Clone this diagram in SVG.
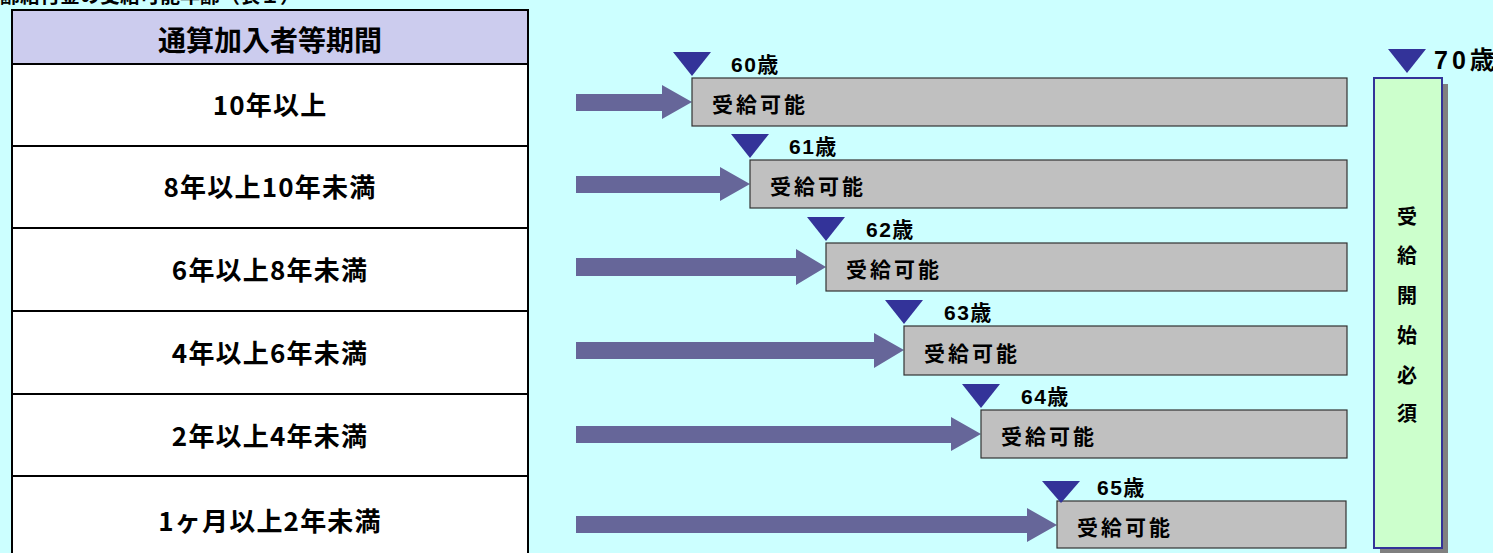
<svg xmlns="http://www.w3.org/2000/svg" width="1493" height="553" viewBox="0 0 1493 553">
<defs>
<style>
.t{font-family:"Noto Sans CJK JP","Liberation Sans",sans-serif;font-weight:bold;fill:#000}
.r{font-size:26px;letter-spacing:1.2px}
.k{font-size:21px;letter-spacing:3px}
.a{font-family:"Liberation Sans","Noto Sans CJK JP",sans-serif;font-weight:bold;fill:#000;font-size:21px;letter-spacing:1.5px}
.cell{fill:#fff;stroke:#000;stroke-width:2}
.box{fill:#c0c0c0;stroke:#333;stroke-width:1.2}
.arr{fill:#666699}
.tri{fill:#333399}
</style>
</defs>
<rect x="0" y="0" width="1493" height="553" fill="#ccffff"/>
<text class="t" x="0" y="3" font-size="20">齢給付金の受給可能年齢（表１）</text>

<g id="table">
<rect x="12" y="10" width="516" height="54" fill="#ccccee" stroke="#000" stroke-width="2"/>
<text class="t" x="270" y="51" font-size="28" text-anchor="middle">通算加入者等期間</text>
<rect class="cell" x="12" y="64" width="516" height="82"/>
<rect class="cell" x="12" y="146" width="516" height="82"/>
<rect class="cell" x="12" y="228" width="516" height="83"/>
<rect class="cell" x="12" y="311" width="516" height="83"/>
<rect class="cell" x="12" y="394" width="516" height="82"/>
<rect class="cell" x="12" y="476" width="516" height="90"/>
<text class="t r" x="270" y="115" text-anchor="middle">10年以上</text>
<text class="t r" x="270" y="197" text-anchor="middle">8年以上10年未満</text>
<text class="t r" x="270" y="280" text-anchor="middle">6年以上8年未満</text>
<text class="t r" x="270" y="363" text-anchor="middle">4年以上6年未満</text>
<text class="t r" x="270" y="446" text-anchor="middle">2年以上4年未満</text>
<text class="t r" x="270" y="531" text-anchor="middle">1ヶ月以上2年未満</text>
</g>

<g id="connectors">
<polygon class="arr" points="576,94 662,94 662,85 692,102 662,119 662,111 576,111"/>
<polygon class="arr" points="576,176 720,176 720,167 750,184 720,201 720,193 576,193"/>
<polygon class="arr" points="576,258 796,258 796,249 826,267 796,285 796,276 576,276"/>
<polygon class="arr" points="576,342 874,342 874,333 904,350 874,368 874,359 576,359"/>
<polygon class="arr" points="576,426 951,426 951,417 981,434 951,451 951,443 576,443"/>
<polygon class="arr" points="576,516 1027,516 1027,508 1057,525 1027,542 1027,533 576,533"/>
</g>

<g id="row1">
<rect class="box" x="692" y="78" width="655" height="48"/>
<text class="t k" x="712" y="112">受給可能</text>
<polygon class="tri" points="673,52 711,52 692,76"/>
<text class="a" x="731" y="72">60歳</text>
</g>
<g id="row2">
<rect class="box" x="750" y="160" width="597" height="48"/>
<text class="t k" x="770" y="194">受給可能</text>
<polygon class="tri" points="731,134 769,134 750,158"/>
<text class="a" x="789" y="154">61歳</text>
</g>
<g id="row3">
<rect class="box" x="826" y="243" width="521" height="48"/>
<text class="t k" x="846" y="277">受給可能</text>
<polygon class="tri" points="807,217 845,217 826,241"/>
<text class="a" x="866" y="237">62歳</text>
</g>
<g id="row4">
<rect class="box" x="904" y="326" width="443" height="49"/>
<text class="t k" x="924" y="361">受給可能</text>
<polygon class="tri" points="885,300 923,300 904,324"/>
<text class="a" x="944" y="320">63歳</text>
</g>
<g id="row5">
<rect class="box" x="981" y="410" width="366" height="48"/>
<text class="t k" x="1001" y="444">受給可能</text>
<polygon class="tri" points="962,384 1000,384 981,408"/>
<text class="a" x="1021" y="404">64歳</text>
</g>
<g id="row6">
<rect class="box" x="1057" y="501" width="289" height="47"/>
<text class="t k" x="1077" y="535">受給可能</text>
<polygon class="tri" points="1042,481 1080,481 1061,503"/>
<text class="a" x="1097" y="495">65歳</text>
</g>

<g id="age70">
<rect x="1380" y="84" width="68" height="475" fill="#808080"/>
<rect x="1374" y="78" width="68" height="470" fill="#ccffcc" stroke="#333399" stroke-width="2"/>
<polygon class="tri" points="1388,49 1426,49 1407,73"/>
<text class="a" x="1434" y="69" style="font-size:25px;letter-spacing:4px">70歳</text>
<g class="t" font-size="20" text-anchor="middle">
<text x="1407" y="224">受</text>
<text x="1407" y="263">給</text>
<text x="1407" y="303">開</text>
<text x="1407" y="343">始</text>
<text x="1407" y="383">必</text>
<text x="1407" y="421">須</text>
</g>
</g>
</svg>
